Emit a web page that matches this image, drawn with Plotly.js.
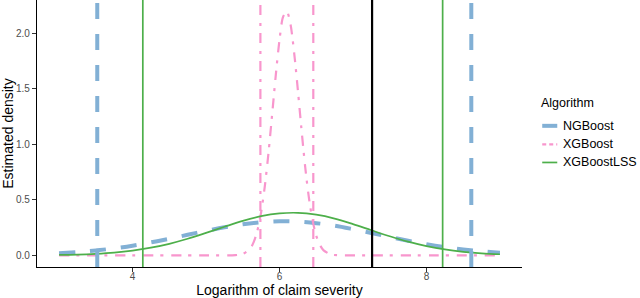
<!DOCTYPE html>
<html>
<head>
<meta charset="utf-8">
<script src="https://cdn.plot.ly/plotly-3.0.1.min.js"></script>
<style>html,body{margin:0;padding:0;background:#fff;}#chart{width:640px;height:298px;}</style>
</head>
<body>
<div id="chart"></div>
<script>
// ---- data ----
const algorithms = ["NGBoost", "XGBoost", "XGBoostLSS"];

const gridX = [3.0, 3.25, 3.5, 3.75, 4.0, 4.25, 4.5, 4.75, 5.0, 5.25, 5.5, 5.75, 6.0,
               6.25, 6.5, 6.75, 7.0, 7.25, 7.5, 7.75, 8.0, 8.25, 8.5, 8.75, 9.0];

const ngboostY = [0.019, 0.030, 0.044, 0.063, 0.087, 0.117, 0.149, 0.185, 0.220, 0.253, 0.280, 0.298, 0.307,
                  0.304, 0.290, 0.267, 0.236, 0.202, 0.166, 0.132, 0.101, 0.074, 0.053, 0.036, 0.024];

const xgblssY = [0.004, 0.007, 0.014, 0.025, 0.043, 0.069, 0.104, 0.149, 0.202, 0.257, 0.310, 0.353, 0.378,
                 0.383, 0.366, 0.331, 0.281, 0.226, 0.172, 0.123, 0.083, 0.053, 0.032, 0.018, 0.010];

const xgbX = [3.0, 5.0, 5.4, 5.5, 5.6, 5.65, 5.7, 5.75, 5.8, 5.85, 5.9, 5.95, 6.0, 6.05, 6.1,
              6.15, 6.2, 6.25, 6.3, 6.35, 6.4, 6.45, 6.5, 6.55, 6.6, 6.7, 6.8, 7.2, 9.0];
const xgbY = [0.0, 0.0, 0.002, 0.012, 0.060, 0.121, 0.225, 0.388, 0.621, 0.922, 1.271, 1.627, 1.940, 2.150, 2.195,
              2.080, 1.820, 1.488, 1.128, 0.794, 0.519, 0.315, 0.177, 0.093, 0.045, 0.008, 0.001, 0.0, 0.0];

// interval bounds (vertical lines) and observed value
const ngboostBounds = [3.52, 8.61];
const xgbBounds = [5.74, 6.46];
const xgblssBounds = [4.14, 8.22];
const observed = [7.26];

const xTicks = [4, 6, 8];
const yTicks = [0, 0.5, 1.0, 1.5, 2.0];

// ---- styles ----
const FONT = '"Liberation Sans", Arial, Helvetica, sans-serif';
const cBlue = 'rgb(130,176,213)';
const cPink = 'rgb(248,150,205)';
const cGreen = 'rgb(77,175,74)';
const blueDash = '16px,15px';
const pinkDash = '10px,7px,3px,8px';

const styles = {
  NGBoost: {color: cBlue, width: 4, dash: blueDash},
  XGBoost: {color: cPink, width: 2.2, dash: pinkDash},
  XGBoostLSS: {color: cGreen, width: 1.7, dash: 'solid'}
};

const traces = [
  {x: gridX, y: ngboostY, name: algorithms[0], type: 'scatter', mode: 'lines',
   line: Object.assign({shape: 'spline'}, styles.NGBoost), showlegend: false},
  {x: xgbX, y: xgbY, name: algorithms[1], type: 'scatter', mode: 'lines',
   line: Object.assign({shape: 'spline', smoothing: 0.8}, styles.XGBoost), showlegend: false},
  {x: gridX, y: xgblssY, name: algorithms[2], type: 'scatter', mode: 'lines',
   line: Object.assign({shape: 'spline'}, styles.XGBoostLSS), showlegend: false}
];

const shapes = [];
function vlines(vals, st) {
  vals.forEach(v => shapes.push({type: 'line', xref: 'x', yref: 'paper', x0: v, x1: v, y0: 0, y1: 1,
    line: {color: st.color, width: st.width, dash: st.dash}, layer: 'above'}));
}
vlines(ngboostBounds, styles.NGBoost);
vlines(xgbBounds, styles.XGBoost);
vlines(xgblssBounds, styles.XGBoostLSS);
vlines(observed, {color: '#000', width: 2.2, dash: 'solid'});

// ---- custom legend (ggplot-like short keys) ----
const annotations = [];
const legX0 = 1.0417, legX1 = 1.0727, legTextX = 1.0795;
annotations.push({xref: 'paper', yref: 'paper', x: legX0 - 0.007, y: 0.6127, xanchor: 'left', yanchor: 'middle',
  text: 'Algorithm', showarrow: false, font: {family: FONT, size: 12.5, color: '#000'}});
const legYs = [0.5287, 0.459, 0.3915];
const legDash = {NGBoost: 'solid', XGBoost: '4px,3px', XGBoostLSS: 'solid'};
algorithms.forEach((a, i) => {
  shapes.push({type: 'line', xref: 'paper', yref: 'paper', x0: legX0, x1: legX1, y0: legYs[i], y1: legYs[i],
    line: {color: styles[a].color, width: styles[a].width, dash: legDash[a]}});
  annotations.push({xref: 'paper', yref: 'paper', x: legTextX, y: legYs[i], xanchor: 'left', yanchor: 'middle',
    text: a, showarrow: false, font: {family: FONT, size: 12.5, color: '#000'}});
});

const layout = {
  width: 640, height: 298,
  margin: {l: 37, r: 118, t: 0, b: 31, pad: 0},
  paper_bgcolor: '#fff', plot_bgcolor: '#fff',
  font: {family: FONT, color: '#000'},
  showlegend: false,
  xaxis: {
    range: [2.7, 9.3], tickvals: xTicks, ticktext: xTicks.map(String),
    showgrid: false, zeroline: false, showline: true, linecolor: '#000', linewidth: 1.1,
    ticks: 'outside', ticklen: 4, tickwidth: 1, tickcolor: '#333', ticklabelstandoff: -4,
    tickfont: {family: FONT, size: 10, color: '#4D4D4D'},
    title: {text: 'Logarithm of claim severity', font: {family: FONT, size: 14, color: '#000'}, standoff: 1}
  },
  yaxis: {
    range: [-0.105, 2.30], tickvals: yTicks, tickformat: '.1f',
    showgrid: false, zeroline: false, showline: true, linecolor: '#000', linewidth: 1.1,
    ticks: 'outside', ticklen: 4, tickwidth: 1, tickcolor: '#333',
    tickfont: {family: FONT, size: 10, color: '#4D4D4D'},
    title: {text: 'Estimated density', font: {family: FONT, size: 14, color: '#000'}, standoff: 3}
  },
  shapes: shapes,
  annotations: annotations
};

Plotly.newPlot('chart', traces, layout, {displayModeBar: false, staticPlot: true});
</script>
</body>
</html>
